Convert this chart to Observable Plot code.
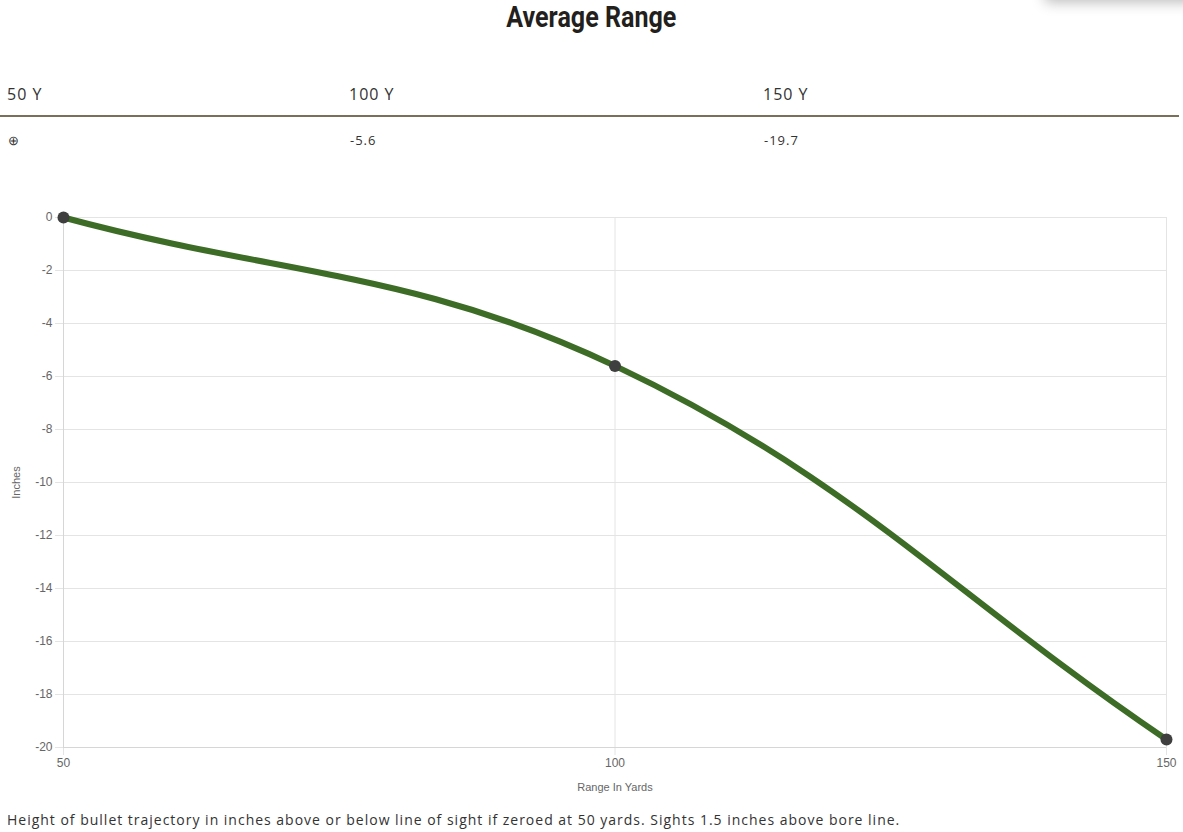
<!DOCTYPE html>
<html>
<head>
<meta charset="utf-8">
<script src="https://cdn.jsdelivr.net/npm/d3@7"></script>
<script src="https://cdn.jsdelivr.net/npm/@observablehq/plot@0.6"></script>
<style>
  html, body { margin: 0; padding: 0; background: #fff; }
  body { width: 1183px; height: 832px; position: relative; overflow: hidden; font-family: "Open Sans", sans-serif; color: #333; }
  #shade { position: absolute; left: 1045px; top: -30px; width: 200px; height: 30px; box-shadow: 0 2px 14px rgba(0,0,0,0.28); background: #fff; }
  #title { position: absolute; left: 0; width: 1183px; top: 0; height: 34px; line-height: 34px; text-align: center; }
  #title span { display: inline-block; font-family: Roboto, "DejaVu Sans", sans-serif; font-weight: bold; font-size: 29px; color: #231f1c; transform-origin: center center; }
  .cell { position: absolute; white-space: nowrap; letter-spacing: 1px; }
  .head { top: 83px; height: 22px; line-height: 22px; font-size: 16px; color: #333; }
  .val { top: 131px; height: 18px; line-height: 18px; font-size: 13px; color: #333; }
  #rule { position: absolute; left: 0; top: 115px; width: 1179px; height: 2px; background: #7a7059; }
  #chart { position: absolute; left: 0; top: 175px; }
  #caption { position: absolute; left: 7px; top: 810px; height: 20px; line-height: 20px; font-size: 14px; color: #333; letter-spacing: 0.99px; white-space: nowrap; }
</style>
</head>
<body>
<div id="shade"></div>
<div id="title"><span></span></div>
<div id="table"></div>
<div id="rule"></div>
<div id="chart"></div>
<div id="caption"></div>
<script>
// ---- data ----
const title = "Average Range";
const rangeLabels = ["50 Y", "100 Y", "150 Y"];
const rangeTable = ["⊕", "-5.6", "-19.7"];
const yards = [50, 100, 150];
const inches = [0, -5.6, -19.7];
const yTicks = [0, -2, -4, -6, -8, -10, -12, -14, -16, -18, -20];
const xTicks = [50, 100, 150];
const xTitle = "Range In Yards";
const yTitle = "Inches";
const caption = "Height of bullet trajectory in inches above or below line of sight if zeroed at 50 yards. Sights 1.5 inches above bore line.";

// ---- page text ----
const tspan = document.querySelector("#title span");
tspan.textContent = title;
const tw = tspan.getBoundingClientRect().width;
tspan.style.transform = `scaleX(${170 / tw})`;

const colX = [7, 349, 763];
const table = document.getElementById("table");
rangeLabels.forEach((t, i) => {
  const d = document.createElement("div");
  d.className = "cell head"; d.style.left = colX[i] + "px"; d.textContent = t; table.appendChild(d);
  const v = document.createElement("div");
  v.className = "cell val"; v.style.left = (colX[i] + 1) + "px"; v.textContent = rangeTable[i]; table.appendChild(v);
});
document.getElementById("caption").textContent = caption;

// ---- Chart.js-like bezier curve (tension 0.4) ----
function chartjsCurve(context) {
  let pts = [];
  return {
    areaStart() {}, areaEnd() {},
    lineStart() { pts = []; },
    point(x, y) { pts.push([+x, +y]); },
    lineEnd() {
      const n = pts.length; if (!n) return;
      const t = 0.4;
      const cps = pts.map((p, i) => {
        const prev = pts[Math.max(i - 1, 0)], next = pts[Math.min(i + 1, n - 1)];
        const d01 = Math.hypot(p[0] - prev[0], p[1] - prev[1]);
        const d12 = Math.hypot(next[0] - p[0], next[1] - p[1]);
        let s01 = d01 / (d01 + d12), s12 = d12 / (d01 + d12);
        if (isNaN(s01)) s01 = 0; if (isNaN(s12)) s12 = 0;
        const fa = t * s01, fb = t * s12;
        return {
          pp: [p[0] - fa * (next[0] - prev[0]), p[1] - fa * (next[1] - prev[1])],
          np: [p[0] + fb * (next[0] - prev[0]), p[1] + fb * (next[1] - prev[1])]
        };
      });
      context.moveTo(pts[0][0], pts[0][1]);
      for (let i = 1; i < n; i++) {
        context.bezierCurveTo(cps[i - 1].np[0], cps[i - 1].np[1], cps[i].pp[0], cps[i].pp[1], pts[i][0], pts[i][1]);
      }
    }
  };
}

const data = yards.map((x, i) => ({x, y: inches[i]}));
const gridColor = "#e4e4e4";
const fmt = d => String(d);

const plot = Plot.plot({
  width: 1183,
  height: 620,
  marginTop: 42,
  marginBottom: 48,
  marginLeft: 63,
  marginRight: 17,
  style: {fontFamily: "'Liberation Sans', Arial, sans-serif", fontSize: "12px", color: "#666", background: "transparent"},
  x: {domain: [50, 150]},
  y: {domain: [-20, 0]},
  marks: [
    Plot.ruleY(yTicks, {y: d => d, stroke: gridColor, strokeWidth: 1}),
    Plot.ruleX(xTicks, {x: d => d, stroke: gridColor, strokeWidth: 1}),
    Plot.axisY({ticks: yTicks, tickFormat: fmt, tickSize: 8, tickPadding: 3, stroke: gridColor, strokeOpacity: 1, fill: "#666", label: null}),
    Plot.axisY({ticks: [], label: yTitle, labelAnchor: "center", labelArrow: false, labelOffset: 51, fontSize: 11, fill: "#666"}),
    Plot.axisX({ticks: xTicks, tickFormat: fmt, tickSize: 8, tickPadding: 3, stroke: gridColor, strokeOpacity: 1, fill: "#666", label: null}),
    Plot.axisX({ticks: [], label: xTitle, labelAnchor: "center", labelArrow: false, labelOffset: 43, fontSize: 11, fill: "#666"}),
    Plot.ruleX([50], {stroke: "#d6d6d6"}),
    Plot.ruleY([-20], {stroke: "#d6d6d6"}),
    Plot.line(data, {x: "x", y: "y", stroke: "#3c6c26", strokeWidth: 6, curve: chartjsCurve}),
    Plot.dot(data, {x: "x", y: "y", r: 6, fill: "#3f3f3f", stroke: "#3f3f3f", strokeWidth: 0})
  ]
});
document.getElementById("chart").appendChild(plot);
</script>
</body>
</html>
